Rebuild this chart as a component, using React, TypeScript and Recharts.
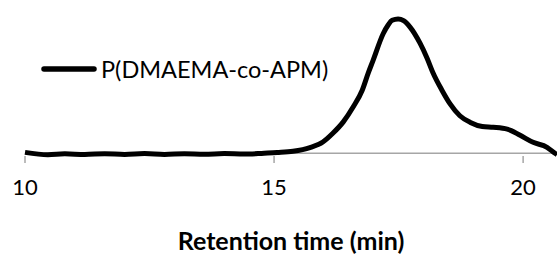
import { LineChart, Line, XAxis, YAxis, Legend, ReferenceLine } from 'recharts';

// retention time (min) and detector signal (arbitrary units, peak ~100)
const retentionTime = [
  10.0, 10.46, 10.8, 11.2, 11.6, 12.0, 12.4, 12.8, 13.2, 13.6, 14.0, 14.4, 14.8, 15.06, 15.38,
  15.72, 15.98, 16.18, 16.39, 16.59, 16.77, 16.89, 16.99, 17.19, 17.29, 17.37, 17.49, 17.6,
  17.73, 17.93, 18.07, 18.19, 18.37, 18.53, 18.73, 18.94, 19.18, 19.4, 19.68, 19.94, 20.2,
  20.48, 20.64, 20.68,
];
const signal = [
  0.7, -1.1, -0.4, -0.9, -0.3, -0.8, -0.2, -0.8, -0.3, -0.7, -0.2, -0.6, 0.1, 0.6, 1.5,
  4.2, 8.4, 14.9, 23.4, 34.6, 47, 59.7, 69.4, 89, 95.5, 99, 100, 98.8,
  94, 82, 71, 60, 47, 37, 28, 23, 20, 19.4, 18, 13.4, 8.2,
  4.5, 0, -1,
];
const xTicks = [10, 15, 20];
const seriesName = 'P(DMAEMA-co-APM)';

const data = retentionTime.map((t, i) => ({ t, v: signal[i] }));

const FONT = 'Lato, "Open Sans", sans-serif';

function LegendBox({ payload }: any) {
  const item = payload?.[0];
  return (
    <div style={{ display: 'flex', alignItems: 'center', fontFamily: FONT, fontSize: 23.5, color: '#000' }}>
      <svg width={56} height={10} style={{ display: 'block' }}>
        <line x1={3} y1={5} x2={53} y2={5} stroke={item?.color ?? '#000'} strokeWidth={5.5} strokeLinecap="round" />
      </svg>
      <span style={{ marginLeft: 4, lineHeight: '24px' }}>{item?.value ?? seriesName}</span>
    </div>
  );
}

export default function App() {
  return (
    <div style={{ position: 'absolute', left: 0, top: 0, background: '#fff' }}>
      <LineChart width={557} height={257} data={data} margin={{ top: 19, right: 0, bottom: 0, left: 25 }}>
        <YAxis hide type="number" domain={[-2, 100]} />
        <XAxis
          dataKey="t"
          type="number"
          domain={[10, 20.68]}
          ticks={xTicks}
          height={101}
          axisLine={false}
          tickLine={{ stroke: '#a6a6a6', strokeWidth: 1.5 }}
          tickSize={7}
          tickMargin={16}
          tick={{ fill: '#000', fontSize: 22, fontFamily: FONT }}
          label={{
            value: 'Retention time (min)',
            position: 'insideBottom',
            offset: 7,
            style: { fill: '#000', fontSize: 25, fontWeight: 700, fontFamily: FONT },
          }}
        />
        <ReferenceLine y={0} stroke="#a6a6a6" strokeWidth={1.5} />
        <Legend
          layout="vertical"
          align="center"
          verticalAlign="middle"
          content={<LegendBox />}
          wrapperStyle={{ position: 'absolute', left: 41, top: 57, width: 'auto' }}
        />
        <Line
          name={seriesName}
          type="monotone"
          dataKey="v"
          stroke="#000"
          strokeWidth={5}
          dot={false}
          isAnimationActive={false}
        />
      </LineChart>
    </div>
  );
}
